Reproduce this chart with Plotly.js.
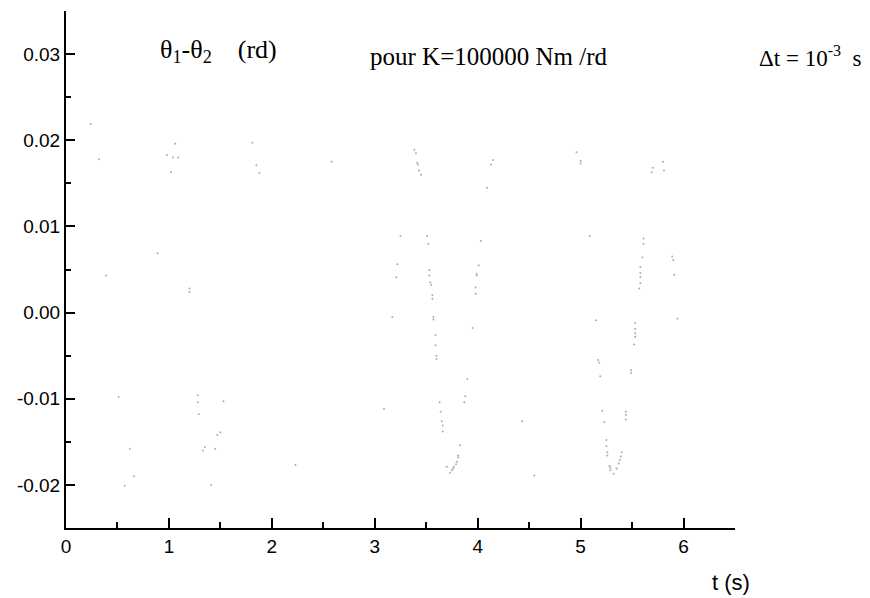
<!DOCTYPE html>
<html>
<head>
<meta charset="utf-8">
<script src="https://cdn.plot.ly/plotly-3.0.1.min.js"></script>
<style>html,body{margin:0;padding:0;background:#fff;}#chart{width:870px;height:598px;}</style>
</head>
<body>
<div id="chart"></div>
<script>
// time (s)
const tValues = [0.24,0.32,0.39,0.51,0.57,0.62,0.66,0.89,0.98,1.02,1.04,1.06,1.09,1.20,1.20,1.28,1.28,1.29,1.33,1.35,1.41,1.45,1.47,1.50,1.53,1.81,1.85,1.88,2.23,2.58,3.09,3.17,3.21,3.22,3.25,3.385,3.40,3.41,3.42,3.43,3.45,3.51,3.52,3.53,3.53,3.54,3.55,3.56,3.56,3.57,3.57,3.59,3.59,3.60,3.60,3.63,3.64,3.65,3.66,3.66,3.70,3.73,3.75,3.76,3.77,3.79,3.80,3.81,3.81,3.83,3.87,3.88,3.90,3.95,3.98,3.98,3.99,3.99,4.01,4.03,4.09,4.13,4.15,4.43,4.55,4.96,5.00,5.00,5.09,5.15,5.17,5.18,5.19,5.21,5.23,5.25,5.25,5.26,5.26,5.28,5.29,5.29,5.32,5.35,5.37,5.38,5.39,5.40,5.44,5.44,5.44,5.49,5.49,5.52,5.53,5.53,5.53,5.53,5.57,5.58,5.58,5.58,5.58,5.60,5.61,5.61,5.69,5.70,5.80,5.81,5.89,5.90,5.91,5.94];
// theta1 - theta2 (rd)
const dThetaValues = [0.0219,0.0178,0.0043,-0.0098,-0.0201,-0.0158,-0.0190,0.0069,0.0183,0.0163,0.0180,0.0196,0.0180,0.0028,0.0024,-0.0096,-0.0104,-0.0118,-0.0160,-0.0156,-0.0200,-0.0158,-0.0142,-0.0139,-0.0103,0.0197,0.0171,0.0162,-0.0177,0.0175,-0.0112,-0.0005,0.0041,0.0056,0.0089,0.0189,0.0185,0.0174,0.0172,0.0165,0.0160,0.0089,0.0080,0.0049,0.0043,0.0035,0.0032,0.0020,0.0016,-0.0005,-0.0008,-0.0026,-0.0038,-0.0050,-0.0054,-0.0104,-0.0115,-0.0126,-0.0131,-0.0138,-0.0179,-0.0186,-0.0183,-0.0181,-0.0179,-0.0176,-0.0173,-0.0168,-0.0166,-0.0154,-0.0104,-0.0097,-0.0077,-0.0018,0.0022,0.0029,0.0043,0.0045,0.0055,0.0083,0.0145,0.0172,0.0177,-0.0126,-0.0189,0.0186,0.0176,0.0173,0.0089,-0.0009,-0.0055,-0.0058,-0.0074,-0.0114,-0.0127,-0.0148,-0.0155,-0.0162,-0.0166,-0.0178,-0.0180,-0.0183,-0.0187,-0.0181,-0.0175,-0.0171,-0.0167,-0.0162,-0.0124,-0.0119,-0.0115,-0.0070,-0.0067,-0.0037,-0.0028,-0.0024,-0.0019,-0.0012,0.0028,0.0034,0.0041,0.0046,0.0053,0.0064,0.0080,0.0086,0.0163,0.0168,0.0175,0.0165,0.0065,0.0061,0.0044,-0.0007];

const xTickVals = [0,1,2,3,4,5,6];
const xTickText = ["0","1","2","3","4","5","6"];
const yTickVals = [-0.02,-0.01,0,0.01,0.02,0.03];
const yTickText = ["-0.02","-0.01","0.00","0.01","0.02","0.03"];

const trace = {
  x: tValues, y: dThetaValues, type: 'scatter', mode: 'markers',
  marker: {size: 2, color: '#ababab'}, hoverinfo: 'skip', cliponaxis: true
};

const serif = 'Liberation Serif, Times New Roman, serif';
const sans = 'Liberation Sans, Arial, sans-serif';

const layout = {
  width: 870, height: 598,
  margin: {l: 66, r: 134.5, t: 10.7, b: 69.5},
  paper_bgcolor: '#fff', plot_bgcolor: '#fff',
  showlegend: false,
  xaxis: {
    range: [0, 6.5], showgrid: false, zeroline: false,
    showline: true, linecolor: '#000', linewidth: 2,
    ticks: 'inside', ticklen: 10, tickwidth: 2, tickcolor: '#000',
    tickmode: 'array', tickvals: xTickVals, ticktext: xTickText,
    tickfont: {family: sans, size: 19, color: '#000'},
    minor: {dtick: 0.5, tick0: 0, ticks: 'inside', ticklen: 6, tickwidth: 2, tickcolor: '#000', showgrid: false}
  },
  yaxis: {
    range: [-0.025, 0.035], showgrid: false, zeroline: false,
    showline: true, linecolor: '#000', linewidth: 2,
    ticks: 'inside', ticklen: 9, tickwidth: 2, tickcolor: '#000',
    tickmode: 'array', tickvals: yTickVals, ticktext: yTickText,
    tickfont: {family: sans, size: 19, color: '#000'},
    minor: {dtick: 0.005, tick0: 0, ticks: 'inside', ticklen: 5, tickwidth: 2, tickcolor: '#000', showgrid: false}
  },
  annotations: [
    {xref: 'paper', yref: 'paper', x: 0.1375, y: 0.922, xanchor: 'left', yanchor: 'middle', showarrow: false,
     text: 'θ<sub>1</sub>-θ<sub>2</sub>\u00A0\u00A0\u00A0\u00A0(rd)', font: {family: serif, size: 26, color: '#000'}},
    {xref: 'paper', yref: 'paper', x: 0.451, y: 0.9125, xanchor: 'left', yanchor: 'middle', showarrow: false,
     text: 'pour K=100000 Nm /rd', font: {family: serif, size: 25, color: '#000'}},
    {xref: 'paper', yref: 'paper', x: 1.0336, y: 0.9125, xanchor: 'left', yanchor: 'middle', showarrow: false,
     text: 'Δt = 10<sup>-3</sup>\u00A0 s', font: {family: serif, size: 23, color: '#000'}},
    {xref: 'paper', yref: 'paper', x: 0.9943, y: -0.105, xanchor: 'center', yanchor: 'middle', showarrow: false,
     text: 't (s)', font: {family: sans, size: 22, color: '#000'}}
  ]
};

Plotly.newPlot('chart', [trace], layout, {displayModeBar: false, staticPlot: true});
</script>
</body>
</html>
